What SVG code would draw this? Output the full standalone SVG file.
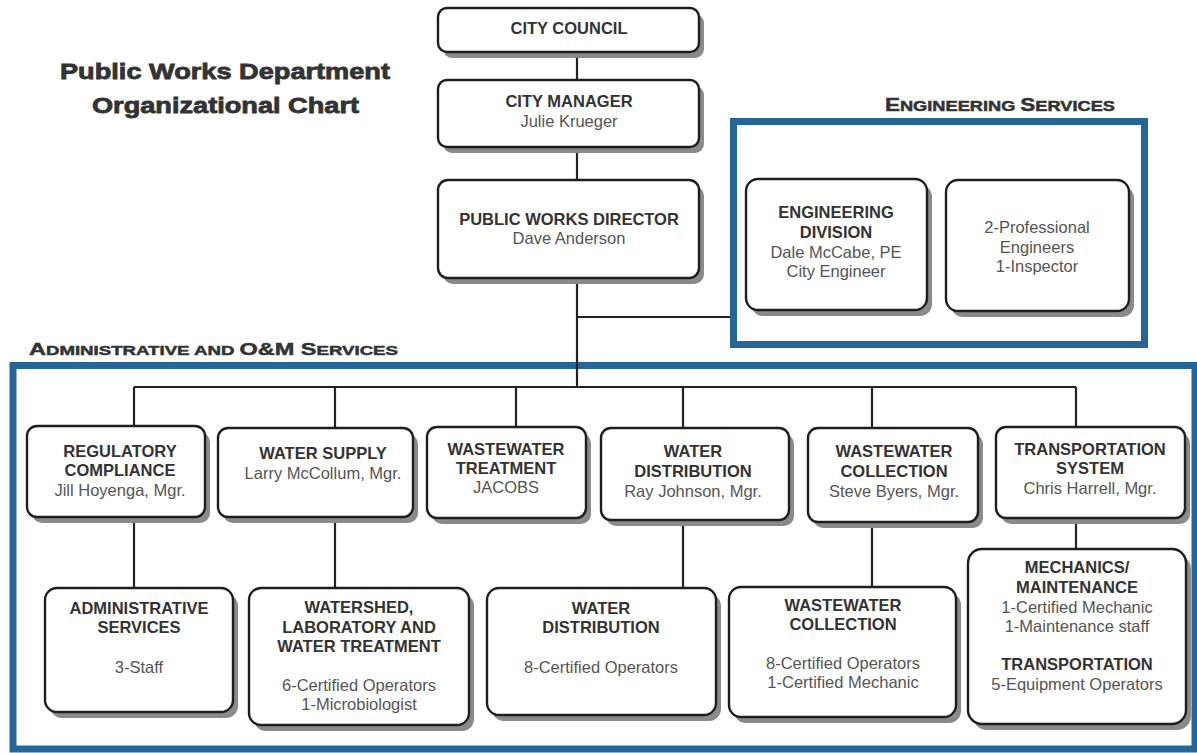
<svg xmlns="http://www.w3.org/2000/svg" width="1197" height="753" viewBox="0 0 1197 753">
<style>
.sh{fill:#8a8a8a;stroke:none}
.bx{fill:#fff;stroke:#1e1e1e;stroke-width:2.4}
.t{font-family:"Liberation Sans",Arial,sans-serif;font-size:16.5px;text-anchor:middle}
.b{font-weight:bold;fill:#333}
.n{fill:#555}
.c{stroke:#222;stroke-width:2.2;fill:none}
.blue{fill:none;stroke:#266597;stroke-width:7}
.lbl{font-family:"Liberation Sans",Arial,sans-serif;font-weight:bold;fill:#333;stroke:#333;stroke-width:0.5}
.ttl{font-family:"Liberation Sans",Arial,sans-serif;font-weight:bold;font-size:22px;fill:#333;stroke:#333;stroke-width:0.8}
</style>
<rect width="1197" height="753" fill="#fff"/>
<g id="title">
<text class="ttl" x="60" y="79" textLength="330" lengthAdjust="spacingAndGlyphs">Public Works Department</text>
<text class="ttl" x="92" y="113" textLength="267" lengthAdjust="spacingAndGlyphs">Organizational Chart</text>
</g>
<g id="group-frames">
<rect class="blue" x="733.5" y="121.5" width="411" height="223"/>
<rect class="blue" x="13" y="365.5" width="1182" height="383.5"/>
<text class="lbl" x="885" y="111" textLength="230" lengthAdjust="spacingAndGlyphs"><tspan font-size="18.5">E</tspan><tspan font-size="15">NGINEERING </tspan><tspan font-size="18.5">S</tspan><tspan font-size="15">ERVICES</tspan></text>
<text class="lbl" x="29" y="355" textLength="369" lengthAdjust="spacingAndGlyphs"><tspan font-size="17">A</tspan><tspan font-size="13.5">DMINISTRATIVE AND </tspan><tspan font-size="17">O&amp;M S</tspan><tspan font-size="13.5">ERVICES</tspan></text>
</g>
<g id="connectors">
<path class="c" d="M577 52V80M577 147V180M577 278V387M577 317H730M134 387H1076M134 387V426M335 387V428M516 387V427M683 387V428M872 387V428M1076 387V427"/>
<path class="c" d="M134 517V588M335 517V588M683 520V588M872 522V587M1076 518V549"/>
</g>
<g id="city-council">
<rect class="sh" x="443" y="14" width="261" height="44" rx="9"/>
<rect class="bx" x="438" y="8" width="261" height="44" rx="9"/>
<text class="t b" x="569" y="34">CITY COUNCIL</text>
</g>
<g id="city-manager">
<rect class="sh" x="443" y="86" width="261" height="67" rx="9"/>
<rect class="bx" x="438" y="80" width="261" height="67" rx="9"/>
<text class="t b" x="569" y="107">CITY MANAGER</text>
<text class="t n" x="569" y="127">Julie Krueger</text>
</g>
<g id="pw-director">
<rect class="sh" x="443" y="186" width="261" height="98" rx="10"/>
<rect class="bx" x="438" y="180" width="261" height="98" rx="10"/>
<text class="t b" x="569" y="225">PUBLIC WORKS DIRECTOR</text>
<text class="t n" x="569" y="244">Dave Anderson</text>
</g>
<g id="engineering-division">
<rect class="sh" x="751" y="185" width="181" height="131" rx="12"/>
<rect class="bx" x="746" y="179" width="181" height="131" rx="12"/>
<text class="t b" x="836" y="218">ENGINEERING</text>
<text class="t b" x="836" y="238">DIVISION</text>
<text class="t n" x="836" y="258">Dale McCabe, PE</text>
<text class="t n" x="836" y="277">City Engineer</text>
</g>
<g id="engineering-staff">
<rect class="sh" x="951" y="186" width="183" height="131" rx="12"/>
<rect class="bx" x="946" y="180" width="183" height="131" rx="12"/>
<text class="t n" x="1037" y="233">2-Professional</text>
<text class="t n" x="1037" y="253">Engineers</text>
<text class="t n" x="1037" y="272">1-Inspector</text>
</g>
<g id="regulatory-compliance">
<rect class="sh" x="32" y="432" width="178" height="91" rx="10"/>
<rect class="bx" x="27" y="426" width="178" height="91" rx="10"/>
<text class="t b" x="120" y="457">REGULATORY</text>
<text class="t b" x="120" y="476">COMPLIANCE</text>
<text class="t n" x="120" y="496">Jill Hoyenga, Mgr.</text>
</g>
<g id="water-supply">
<rect class="sh" x="223" y="434" width="195" height="89" rx="10"/>
<rect class="bx" x="218" y="428" width="195" height="89" rx="10"/>
<text class="t b" x="323" y="459">WATER SUPPLY</text>
<text class="t n" x="323" y="479">Larry McCollum, Mgr.</text>
</g>
<g id="wastewater-treatment">
<rect class="sh" x="432" y="433" width="159" height="91" rx="10"/>
<rect class="bx" x="427" y="427" width="159" height="91" rx="10"/>
<text class="t b" x="506" y="455">WASTEWATER</text>
<text class="t b" x="506" y="474">TREATMENT</text>
<text class="t n" x="506" y="493">JACOBS</text>
</g>
<g id="water-distribution">
<rect class="sh" x="606" y="434" width="188" height="92" rx="10"/>
<rect class="bx" x="601" y="428" width="188" height="92" rx="10"/>
<text class="t b" x="693" y="457">WATER</text>
<text class="t b" x="693" y="477">DISTRIBUTION</text>
<text class="t n" x="693" y="497">Ray Johnson, Mgr.</text>
</g>
<g id="wastewater-collection">
<rect class="sh" x="813" y="434" width="170" height="94" rx="10"/>
<rect class="bx" x="808" y="428" width="170" height="94" rx="10"/>
<text class="t b" x="894" y="457">WASTEWATER</text>
<text class="t b" x="894" y="477">COLLECTION</text>
<text class="t n" x="894" y="497">Steve Byers, Mgr.</text>
</g>
<g id="transportation-system">
<rect class="sh" x="1001" y="433" width="189" height="91" rx="10"/>
<rect class="bx" x="996" y="427" width="189" height="91" rx="10"/>
<text class="t b" x="1090" y="455">TRANSPORTATION</text>
<text class="t b" x="1090" y="474">SYSTEM</text>
<text class="t n" x="1090" y="494">Chris Harrell, Mgr.</text>
</g>
<g id="administrative-services">
<rect class="sh" x="50" y="594" width="188" height="124" rx="12"/>
<rect class="bx" x="45" y="588" width="188" height="124" rx="12"/>
<text class="t b" x="139" y="614">ADMINISTRATIVE</text>
<text class="t b" x="139" y="633">SERVICES</text>
<text class="t n" x="139" y="673">3-Staff</text>
</g>
<g id="watershed-lab">
<rect class="sh" x="254" y="594" width="220" height="137" rx="12"/>
<rect class="bx" x="249" y="588" width="220" height="137" rx="12"/>
<text class="t b" x="359" y="613">WATERSHED,</text>
<text class="t b" x="359" y="633">LABORATORY AND</text>
<text class="t b" x="359" y="652">WATER TREATMENT</text>
<text class="t n" x="359" y="691">6-Certified Operators</text>
<text class="t n" x="359" y="710">1-Microbiologist</text>
</g>
<g id="water-distribution-ops">
<rect class="sh" x="492" y="594" width="229" height="127" rx="12"/>
<rect class="bx" x="487" y="588" width="229" height="127" rx="12"/>
<text class="t b" x="601" y="614">WATER</text>
<text class="t b" x="601" y="633">DISTRIBUTION</text>
<text class="t n" x="601" y="673">8-Certified Operators</text>
</g>
<g id="wastewater-collection-ops">
<rect class="sh" x="734" y="593" width="227" height="130" rx="12"/>
<rect class="bx" x="729" y="587" width="227" height="130" rx="12"/>
<text class="t b" x="843" y="611">WASTEWATER</text>
<text class="t b" x="843" y="630">COLLECTION</text>
<text class="t n" x="843" y="669">8-Certified Operators</text>
<text class="t n" x="843" y="688">1-Certified Mechanic</text>
</g>
<g id="mechanics-maintenance">
<rect class="sh" x="973" y="555" width="218" height="175" rx="14"/>
<rect class="bx" x="968" y="549" width="218" height="175" rx="14"/>
<text class="t b" x="1077" y="573">MECHANICS/</text>
<text class="t b" x="1077" y="593">MAINTENANCE</text>
<text class="t n" x="1077" y="613">1-Certified Mechanic</text>
<text class="t n" x="1077" y="632">1-Maintenance staff</text>
<text class="t b" x="1077" y="670">TRANSPORTATION</text>
<text class="t n" x="1077" y="690">5-Equipment Operators</text>
</g>
</svg>
